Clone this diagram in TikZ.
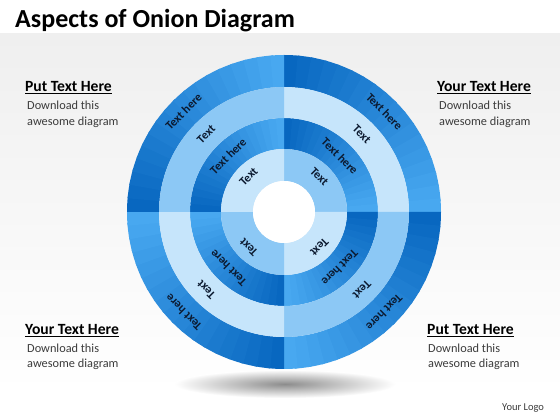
\documentclass[tikz,border=0pt]{standalone}
\usepackage{fontspec}
\setmainfont{Carlito}
\usetikzlibrary{positioning}

\definecolor{dkblue}{HTML}{0867C0}
\definecolor{mdblue}{HTML}{48A8F0}
\definecolor{ltblue}{HTML}{8CC8F5}
\definecolor{paleblue}{HTML}{C6E5FB}
\definecolor{txtnavy}{HTML}{0C1A30}
\definecolor{bodygray}{HTML}{3C3C3C}
\definecolor{bggray}{HTML}{EFEFEF}

\tikzset{
  ringtext/.style={font=\bfseries\fontsize{12}{14}\selectfont, text=txtnavy, inner sep=0pt},
  headtext/.style={font=\bfseries\fontsize{15.6}{18}\selectfont, anchor=base west, inner sep=0pt},
  bodytext/.style={font=\fontsize{12.3}{15.5}\selectfont, text=bodygray, anchor=base west, inner sep=0pt, align=left},
}

% one piece of a ring: colour, inner radius, outer radius, start, end
\newcommand{\ringpiece}[5]{%
  \fill[#1] (#4:#2) arc[start angle=#4, end angle=#5, radius=#2]
    -- (#5:#3) arc[start angle=#5, end angle=#4, radius=#3] -- cycle;}

\begin{document}
\begin{tikzpicture}[x=1pt, y=1pt]
  \useasboundingbox (0,0) rectangle (560,420);
  % background
  \fill[white] (0,0) rectangle (560,420);
  \shade[top color=bggray, bottom color=white!97!bggray] (0,38) rectangle (560,386);

  % title
  \node[font=\bfseries\fontsize{26}{30}\selectfont, anchor=base west, inner sep=0pt] (title) at (15,392) {Aspects of Onion Diagram};

  % shadow under the onion
  \shade[inner color=black!45, outer color=white!97!bggray] (285,36) ellipse [x radius=110, y radius=14];

  \begin{scope}[shift={(284,208)}]
    \foreach \q in {0,...,3}{
      \pgfmathsetmacro\s{90-90*\q}
      % dark rings, shaded clockwise
      \foreach \k in {0,...,17}{
        \pgfmathsetmacro\a{\s-5*\k}
        \pgfmathsetmacro\b{\s-5*\k-(\k<17 ? 6 : 5)}
        \pgfmathtruncatemacro\p{100-100*\k/17}
        \ringpiece{dkblue!\p!mdblue}{125}{157}{\a}{\b}
        \ringpiece{dkblue!\p!mdblue}{63}{94}{\a}{\b}
      }
      % light rings
      \pgfmathtruncatemacro\odd{mod(\q,2)}
      \ifnum\odd=0
        \ringpiece{paleblue}{94}{125}{\s}{\s-90}
        \ringpiece{ltblue}{31}{63}{\s}{\s-90}
      \else
        \ringpiece{ltblue}{94}{125}{\s}{\s-90}
        \ringpiece{paleblue}{31}{63}{\s}{\s-90}
      \fi
    }
    \fill[white] (0,0) circle[radius=31];

    % ring labels
    \foreach \q in {0,...,3}{
      \pgfmathsetmacro\m{45-90*\q}
      \pgfmathsetmacro\r{\m-90}
      \node[ringtext, rotate=\r] (outer\q) at (\m:142) {Text here};
      \node[ringtext, rotate=\r] (third\q) at (\m:110) {Text};
      \node[ringtext, rotate=\r] (second\q) at (\m:79) {Text here};
      \node[ringtext, rotate=\r] (first\q) at (\m:50) {Text};
    }
  \end{scope}

  % corner texts
  \node[headtext] (tlhead) at (25,328) {\underline{Put Text Here}};
  \node[bodytext] (tlbody) at (27,294.5) {Download this\\awesome diagram};
  \node[headtext] (trhead) at (437,328) {\underline{Your Text Here}};
  \node[bodytext] (trbody) at (439,294.5) {Download this\\awesome diagram};
  \node[headtext] (blhead) at (25,85) {\underline{Your Text Here}};
  \node[bodytext] (blbody) at (27,52) {Download this\\awesome diagram};
  \node[headtext] (brhead) at (427,85) {\underline{Put Text Here}};
  \node[bodytext] (brbody) at (428,52) {Download this\\awesome diagram};

  \node[font=\fontsize{10.5}{12}\selectfont, text=bodygray, anchor=base west, inner sep=0pt] (logo) at (502,9) {Your Logo};
\end{tikzpicture}
\end{document}
